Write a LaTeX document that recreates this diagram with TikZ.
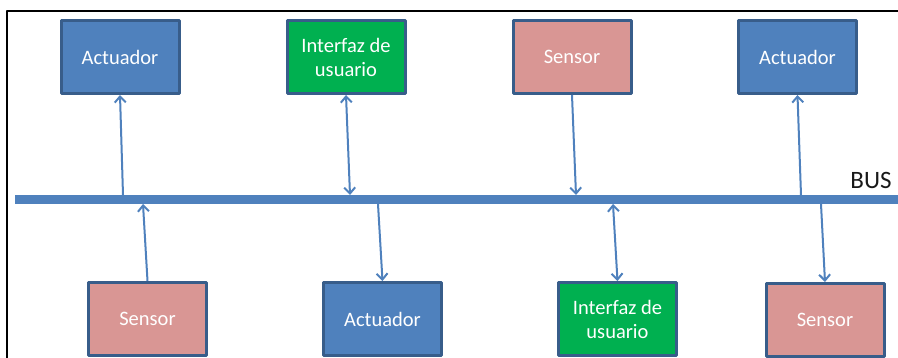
\documentclass[tikz,border=0pt]{standalone}
\usepackage{fontspec}
\setmainfont{Carlito}
\usetikzlibrary{arrows.meta}
\definecolor{busblue}{HTML}{4F81BD}
\definecolor{boxedge}{HTML}{385D8A}
\definecolor{uigreen}{HTML}{00B050}
\definecolor{senpink}{HTML}{D99694}
\begin{document}
\begin{tikzpicture}[x=1pt,y=-1pt,>={Straight Barb[length=6pt,width=11pt]},line join=round,
	box/.style={draw=boxedge,line width=3pt,minimum width=118pt,minimum height=73pt,inner sep=0pt,align=center,text=white,font=\fontsize{20.5}{24}\selectfont},
	act/.style={box,fill=busblue},
	ui/.style={box,fill=uigreen},
	sen/.style={box,fill=senpink},
	link/.style={draw=busblue,line width=2pt}]
	\def\ytop{57} \def\ybot{319} \def\bushi{195} \def\buslo{204}
	\useasboundingbox (0,0) rectangle (898,358);
	\draw[line width=1.5pt] (7,358) -- (7,11) -- (898,11);
	\draw[busblue,line width=9pt] (15,199.5) -- (898,199.5);
	\node[anchor=base,font=\fontsize{25}{30}\selectfont,text=black!90] (bus) at (871,189) {BUS};
	% nodos de arriba
	\node[act] (act1) at (120,\ytop) {Actuador};
	\node[ui]  (ui1)  at (346,\ytop) {Interfaz de\\usuario};
	\node[sen] (sen1) at (572,\ytop) {Sensor};
	\node[act] (act2) at (797.5,\ytop) {Actuador};
	% nodos de abajo
	\node[sen] (sen2) at (147.5,\ybot) {Sensor};
	\node[act] (act3) at (382.5,\ybot) {Actuador};
	\node[ui]  (ui2)  at (617.5,\ybot) {Interfaz de\\usuario};
	\node[sen] (sen3) at (825,320) {Sensor};
	\coordinate (b1) at (123,\bushi); \coordinate (b2) at (350,\bushi);
	\coordinate (b3) at (576,\bushi); \coordinate (b4) at (801,\bushi);
	\coordinate (b5) at (143,\buslo); \coordinate (b6) at (378,\buslo);
	\coordinate (b7) at (613,\buslo); \coordinate (b8) at (821,\buslo);
	\draw[link,<-] (act1.south) -- (b1);
	\draw[link,<->] (ui1.south) -- (b2);
	\draw[link,->] (sen1.south) -- (b3);
	\draw[link,<-] (act2.south) -- (b4);
	\draw[link,->] (sen2.north) -- (b5);
	\draw[link,->] (b6) -- (act3.north);
	\draw[link,<->] (b7) -- (ui2.north);
	\draw[link,->] (b8) -- (sen3.north);
\end{tikzpicture}
\end{document}
